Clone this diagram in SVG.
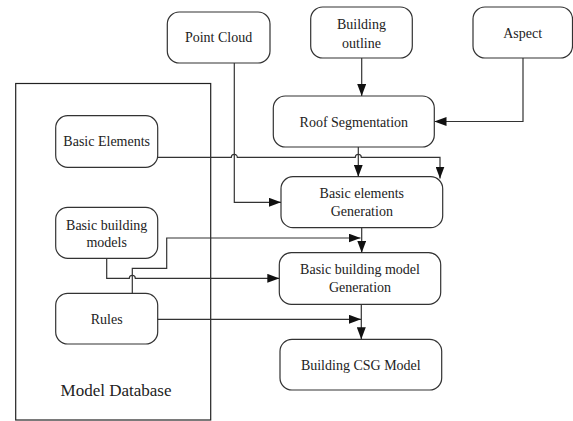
<svg xmlns="http://www.w3.org/2000/svg" width="573" height="421" viewBox="0 0 573 421" font-family="Liberation Serif, Times New Roman, serif">
<style>
.box{fill:#fff;stroke:#333;stroke-width:1.2}
.t{font-size:14px;fill:#222;text-anchor:middle}
.c{fill:none;stroke:#333;stroke-width:1.2}
</style>
<defs>
<marker id="ah" markerUnits="userSpaceOnUse" markerWidth="12" markerHeight="9" refX="12" refY="4.5" orient="auto">
<path d="M0,0 L12,4.5 L0,9 z" fill="#111"/>
</marker>
</defs>
<rect fill="#fff" width="573" height="421"/>
<g id="model-database">
<rect x="15.7" y="83.5" width="195" height="336.5" fill="none" stroke="#222" stroke-width="1.2"/>
<text class="t" x="116" y="396" style="font-size:17px">Model Database</text>
</g>
<g id="point-cloud"><rect class="box" x="167.3" y="12" width="102.7" height="51" rx="12"/><text class="t" x="218.6" y="42">Point Cloud</text></g>
<g id="building-outline"><rect class="box" x="310.7" y="7" width="101.6" height="51" rx="12"/><text class="t" x="361.5" y="28.5">Building</text><text class="t" x="361.5" y="47.5">outline</text></g>
<g id="aspect"><rect class="box" x="473" y="7" width="99.5" height="51" rx="12"/><text class="t" x="522.7" y="38">Aspect</text></g>
<g id="roof-segmentation"><rect class="box" x="273.3" y="96" width="161" height="51" rx="12"/><text class="t" x="353.8" y="126.5">Roof Segmentation</text></g>
<g id="basic-elements"><rect class="box" x="55.7" y="115.7" width="102" height="51.6" rx="12"/><text class="t" x="106.7" y="146">Basic Elements</text></g>
<g id="basic-elements-generation"><rect class="box" x="281" y="176.7" width="161.7" height="51" rx="12"/><text class="t" x="361.8" y="198">Basic elements</text><text class="t" x="361.8" y="215.5">Generation</text></g>
<g id="basic-building-models"><rect class="box" x="55.7" y="207.3" width="102" height="51" rx="12"/><text class="t" x="106.7" y="229.5">Basic building</text><text class="t" x="106.7" y="246.5">models</text></g>
<g id="basic-building-model-generation"><rect class="box" x="279.3" y="252.7" width="161.4" height="51.6" rx="12"/><text class="t" x="360" y="273.5">Basic building model</text><text class="t" x="360" y="291.5">Generation</text></g>
<g id="rules"><rect class="box" x="55.7" y="293.3" width="102" height="50.7" rx="12"/><text class="t" x="106.7" y="323.5">Rules</text></g>
<g id="building-csg-model"><rect class="box" x="280" y="339.3" width="161.7" height="50.7" rx="12"/><text class="t" x="360.8" y="369.5">Building CSG Model</text></g>
<g id="connectors">
<path class="c" d="M361.7,58 V96" marker-end="url(#ah)"/>
<path class="c" d="M523,58 V121.5 H434.5" marker-end="url(#ah)"/>
<path class="c" d="M234.3,63 V202.3 H281" marker-end="url(#ah)"/>
<path class="c" d="M157.7,157.3 H231.3 a3,3 0 0 1 6,0 H355.3 a3,3 0 0 1 6,0 H440 V178.5" marker-end="url(#ah)"/>
<path class="c" d="M358.3,147 V176.7" marker-end="url(#ah)"/>
<path class="c" d="M361.7,227.7 V252.7" marker-end="url(#ah)"/>
<path class="c" d="M106.7,258.3 V278.3 H129.3 a3,3 0 0 1 6,0 H279.3" marker-end="url(#ah)"/>
<path class="c" d="M132.3,293.3 V268.3 H166.7 V238 H360.5" marker-end="url(#ah)"/>
<path class="c" d="M157.7,319.3 H361" marker-end="url(#ah)"/>
<path class="c" d="M361.3,304.3 V339.3" marker-end="url(#ah)"/>
</g>
</svg>
